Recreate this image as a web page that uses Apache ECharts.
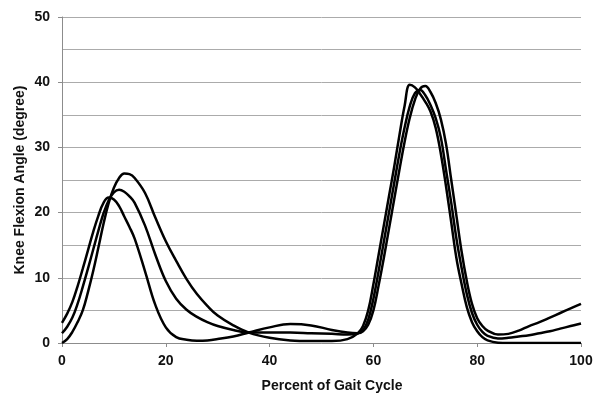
<!DOCTYPE html>
<html>
<head>
<meta charset="utf-8">
<title>Knee Flexion Angle</title>
<script src="https://cdn.jsdelivr.net/npm/echarts@6/dist/echarts.min.js"></script>
<style>
  html, body { margin: 0; padding: 0; background: #fff; }
  #chart { width: 601px; height: 395px; }
</style>
</head>
<body>
<div id="chart"></div>
<script>
// percent of gait cycle (x positions shared by all curves)
var percent = [0,1,2,3,4,5,6,7,8,9,10,11,12,13,14,16,18,20,22,24,26,28,30,33,36,40,44,48,52,55,
  57,58,59,60,61,62,63,64,65,66,67,68,69,70,71,72,73,74,75,76,77,78,79,80,81,82,84,86,88,90,92,94,96,98,100];

// knee flexion angle (degree)
var kneeA = [3.1,4.5,6.3,8.7,11.4,14.2,17.0,19.5,21.5,22.3,22.0,21.0,19.4,17.8,16.0,11.0,5.8,2.4,0.9,0.5,0.35,0.4,0.6,1.0,1.6,2.4,2.9,2.7,2.0,1.6,
  1.5,1.8,2.8,5.0,8.8,13.0,17.5,22.0,26.5,30.8,34.5,37.3,39.0,39.4,38.5,36.8,34.3,30.5,25.0,19.5,14.0,9.5,6.0,3.8,2.6,1.9,
  1.3,1.4,1.9,2.6,3.2,3.9,4.6,5.3,6.0];
var kneeB = [1.5,2.5,3.9,6.0,8.6,11.4,14.3,17.2,19.9,21.9,23.1,23.5,23.2,22.5,21.5,18.0,13.5,9.5,6.8,5.1,4.0,3.2,2.6,2.0,1.6,1.6,1.6,1.5,1.4,1.3,
  1.5,2.0,3.6,6.8,11.0,15.5,20.0,24.5,29.0,33.0,36.3,38.3,38.8,38.0,36.5,34.5,31.5,26.5,21.5,16.0,11.5,7.5,4.6,2.8,1.7,1.1,
  0.7,0.8,1.0,1.2,1.5,1.8,2.2,2.6,3.0];
var kneeC = [0,0.6,1.7,3.2,5.0,7.8,11.0,14.6,18.3,21.5,23.8,25.3,26.0,25.9,25.3,23.0,19.2,15.6,12.6,9.8,7.5,5.7,4.2,2.7,1.6,0.8,0.4,0.3,0.3,0.6,
  1.5,2.6,5.0,9.0,13.5,18.0,22.5,27.0,31.8,36.3,39.6,39.2,38.2,37.0,35.5,33.0,29.0,24.0,18.5,13.0,9.0,5.5,3.2,1.8,0.9,0.4,
  0.05,0,0,0,0,0,0,0,0];

var xTicks = [0, 20, 40, 60, 80, 100];
var yTicks = [0, 10, 20, 30, 40, 50];

function pairs(ys) {
  return percent.map(function (x, i) { return [x, ys[i]]; });
}

var font = 'Liberation Sans, Arial, sans-serif';
var axisGray = '#8c8c8c';
var gridGray = '#ababab';

var chart = echarts.init(document.getElementById('chart'), null, { renderer: 'canvas' });

function curve(name, ys) {
  return {
    name: name,
    type: 'line',
    data: pairs(ys),
    smooth: 0.4,
    showSymbol: false,
    symbol: 'none',
    lineStyle: { color: '#000', width: 2.5 },
    animation: false
  };
}

var option = {
  animation: false,
  grid: { left: 62, right: 20, top: 17, bottom: 52, outerBoundsMode: 'none' },
  xAxis: {
    type: 'value',
    min: xTicks[0],
    max: xTicks[xTicks.length - 1],
    interval: 20,
    name: 'Percent of Gait Cycle',
    nameLocation: 'middle',
    nameGap: 36,
    nameMoveOverlap: false,
    nameTextStyle: { fontFamily: font, fontWeight: 'bold', fontSize: 14, color: '#111', padding: [0, 0, 0, 21] },
    axisLine: { show: true, onZero: false, lineStyle: { color: axisGray, width: 1 } },
    axisTick: { show: true, length: 4, lineStyle: { color: axisGray } },
    axisLabel: { fontFamily: font, fontWeight: 'bold', fontSize: 14, color: '#111', margin: 11 },
    splitLine: { show: false }
  },
  yAxis: {
    type: 'value',
    min: yTicks[0],
    max: yTicks[yTicks.length - 1],
    interval: 10,
    name: 'Knee Flexion Angle (degree)',
    nameLocation: 'middle',
    nameGap: 35,
    nameMoveOverlap: false,
    nameTextStyle: { fontFamily: font, fontWeight: 'bold', fontSize: 14, color: '#111' },
    axisLine: { show: true, lineStyle: { color: axisGray, width: 1 } },
    axisTick: { show: true, length: 4, lineStyle: { color: axisGray } },
    axisLabel: { fontFamily: font, fontWeight: 'bold', fontSize: 14, color: '#111', margin: 12 },
    splitLine: { show: true, lineStyle: { color: gridGray, width: 1 } },
    minorTick: { show: false, splitNumber: 2 },
    minorSplitLine: { show: true, lineStyle: { color: gridGray, width: 1 } }
  },
  series: [
    curve('A', kneeA),
    curve('B', kneeB),
    curve('C', kneeC)
  ]
};

chart.setOption(option);
</script>
</body>
</html>
